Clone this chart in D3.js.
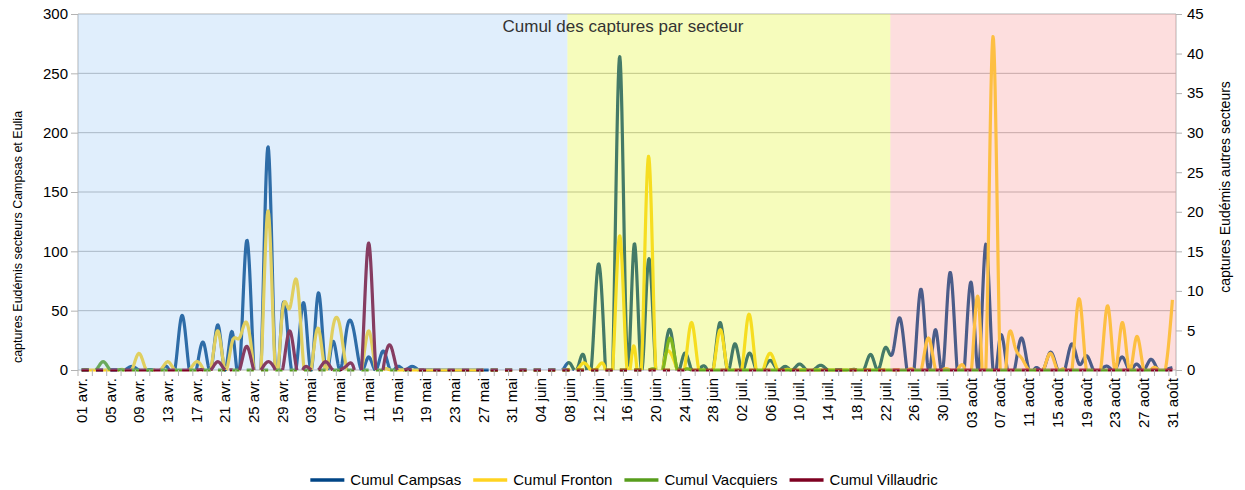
<!DOCTYPE html>
<html>
<head>
<meta charset="utf-8">
<script src="https://cdn.jsdelivr.net/npm/d3@7"></script>
<style>
  body { margin: 0; background: #fff; }
  svg { font-family: "Liberation Sans", Arial, sans-serif; }
</style>
</head>
<body>
<div id="chart"></div>
<script>
// months covered by the chart (day categories are built from these)
const months = ["avr.", "mai", "juin", "juil.", "août"];
const monthLengths = [30, 31, 30, 31, 31];

// daily values, one line per month (avr, mai, juin, juil, août)
const campsas = [].concat(
  [0,0,0,0,0,0,0,3,0,0, 0,0,2,0,46,0,0,23,0,38, 0,32,0,109,0,0,188,0,53,12],
  [6,56,0,65,0,24,0,36,31,0, 11,0,16,0,3,0,3,0,0,0, 0,0,0,0,0,0,0,0,0,0, 0],
  [0,0,0,0,0,0,0,6,0,12, 0,89,0,0,264,12,106,0,93,0, 0,34,0,14,0,0,2,0,40,0],
  [22,0,14,0,0,8,0,3,0,5, 0,0,4,0,0,0,0,0,0,13, 0,19,14,44,0,0,68,0,34,0, 82],
  [0,0,73,0,106,0,28,0,0,27, 0,2,0,15,0,0,22,5,12,0, 0,3,0,11,0,5,0,9,0,0, 2]
);
const fronton = [].concat(
  [0,0,0,0,0,0,0,0,14,0, 0,0,7,0,0,0,7,0,0,33, 0,24,27,40,0,0,134,0,50,52],
  [75,0,0,35,0,35,37,0,0,0, 33,0,0,0,0,0,0,0,0,0, 0,0,0,0,0,0,0,0,0,0, 0],
  [0,0,0,0,0,0,0,0,0,6, 0,3,0,0,113,0,20,0,180,0, 0,15,0,0,40,0,0,0,34,0],
  [0,0,47,0,0,14,0,0,0,0, 0,0,0,0,0,0,0,0,0,0, 0,0,0,0,0,0,0,27,0,0, 0],
  [0,2,0,58,0,281,0,19,21,10, 0,0,0,14,0,0,0,60,0,0, 0,54,0,40,0,28,0,0,0,0, 59]
);
const vacquiers = [].concat(
  [0,0,0,7,0,0,0,0,0,0, 0,0,0,0,0,0,0,0,0,0, 0,0,0,0,0,0,0,0,0,0],
  [0,0,0,0,0,0,0,0,0,0, 0,0,0,0,0,0,0,0,0,0, 0,0,0,0,0,0,0,0,0,0, 0],
  [0,0,0,0,0,0,0,0,0,0, 0,0,0,0,0,0,0,0,0,0, 0,27,0,0,0,0,0,0,0,0],
  [0,0,0,0,0,0,0,0,0,0, 0,0,0,0,0,0,0,0,0,0, 0,0,0,0,0,0,0,0,0,0, 0],
  [0,0,0,0,0,0,0,0,0,0, 0,0,0,0,0,0,0,0,0,0, 0,0,0,0,0,0,0,0,0,0, 0]
);
const villaudric = [].concat(
  [0,0,0,0,0,0,0,0,0,0, 0,0,0,0,0,0,0,0,0,7, 0,0,0,20,0,0,7,0,0,33],
  [0,2,0,0,7,0,0,4,0,0, 107,0,0,21,0,0,0,0,0,0, 0,0,0,0,0,0,0,0,0,0, 0],
  [0,0,0,0,0,0,0,0,0,0, 0,0,0,0,0,0,0,0,0,0, 0,0,0,0,0,0,0,0,0,0],
  [0,0,0,0,0,0,0,0,0,0, 0,0,0,0,0,0,0,0,0,0, 0,0,0,0,0,0,0,0,0,0, 0],
  [0,0,0,0,0,0,0,0,0,0, 0,0,0,0,0,0,0,0,0,0, 0,0,0,0,0,0,0,0,0,0, 0]
);

const seriesNames = ["Cumul Campsas", "Cumul Fronton", "Cumul Vacquiers", "Cumul Villaudric"];
const seriesColors = ["#004586", "#ffd320", "#579d1c", "#7e0021"];

// background sectors, each starting on a day
const zoneStarts = ["01 avr.", "08 juin", "23 juil."];
const zoneColors = ["#98c6f5", "#e1f520", "#f89191"];

const leftTicks = [0, 50, 100, 150, 200, 250, 300];
const rightTicks = [0, 5, 10, 15, 20, 25, 30, 35, 40, 45];

const title = "Cumul des captures par secteur";
const leftTitle = "captures Eudémis secteurs Campsas et Eulia";
const rightTitle = "captures Eudémis autres secteurs";

// day categories "01 avr." ...
const days = [];
months.forEach((m, k) => {
  for (let d = 1; d <= monthLengths[k]; d++) days.push(String(d).padStart(2, "0") + " " + m);
});

const width = 1245, height = 490;
const plot = { left: 78, right: 1176, top: 14, bottom: 370 };

const svg = d3.select("#chart").append("svg")
  .attr("width", width)
  .attr("height", height);

const x = d3.scaleBand().domain(days).range([plot.left, plot.right]).padding(0);
const bw = x.bandwidth();
const xc = d3.scaleLinear().domain([0, days.length - 1])
  .range([x(days[0]) + bw / 2, x(days[days.length - 1]) + bw / 2]);
const yL = d3.scaleLinear().domain([0, 300]).range([plot.bottom, plot.top]);
const yR = d3.scaleLinear().domain([0, 45]).range([plot.bottom, plot.top]);

// grid
svg.append("g")
  .selectAll("line")
  .data(leftTicks.slice(1))
  .enter()
  .append("line")
  .attr("x1", plot.left).attr("x2", plot.right)
  .attr("y1", d => yL(d)).attr("y2", d => yL(d))
  .attr("stroke", "#b3b3b3").attr("stroke-width", 1);

// plot frame lines (left, right, bottom)
svg.append("line").attr("x1", plot.left).attr("x2", plot.left).attr("y1", plot.top).attr("y2", plot.bottom)
  .attr("stroke", "#b3b3b3");
svg.append("line").attr("x1", plot.right).attr("x2", plot.right).attr("y1", plot.top).attr("y2", plot.bottom)
  .attr("stroke", "#b3b3b3");
svg.append("line").attr("x1", plot.left).attr("x2", plot.right).attr("y1", plot.bottom).attr("y2", plot.bottom)
  .attr("stroke", "#b3b3b3");

// natural cubic spline (second derivatives)
function splineM(ys) {
  const n = ys.length;
  const M = new Float64Array(n), cp = new Float64Array(n), dp = new Float64Array(n);
  for (let i = 1; i < n - 1; i++) {
    const rhs = 6 * (ys[i + 1] - 2 * ys[i] + ys[i - 1]);
    const den = 4 - (i > 1 ? cp[i - 1] : 0);
    cp[i] = 1 / den;
    dp[i] = (rhs - (i > 1 ? dp[i - 1] : 0)) / den;
  }
  for (let i = n - 2; i >= 1; i--) M[i] = dp[i] - cp[i] * M[i + 1];
  return M;
}

// sample the spline, keep only the parts >= 0 (the chart cuts the curve at the axis)
function splineRuns(ys) {
  const M = splineM(ys);
  const steps = 14;
  const pts = [];
  for (let i = 0; i < ys.length - 1; i++) {
    for (let s = 0; s < steps; s++) {
      const t = s / steps, u = 1 - t;
      const v = ys[i] * u + ys[i + 1] * t + ((u * u * u - u) * M[i] + (t * t * t - t) * M[i + 1]) / 6;
      pts.push({ u: i + t, v: v });
    }
  }
  pts.push({ u: ys.length - 1, v: ys[ys.length - 1] });
  const runs = [];
  let cur = null;
  for (let k = 0; k < pts.length; k++) {
    const p = pts[k];
    if (p.v >= 0) {
      if (!cur) {
        cur = [];
        if (k > 0) {
          const q = pts[k - 1];
          const f = q.v / (q.v - p.v);
          cur.push({ u: q.u + f * (p.u - q.u), v: 0 });
        }
        runs.push(cur);
      }
      cur.push(p);
    } else if (cur) {
      const q = pts[k - 1];
      const f = q.v / (q.v - p.v);
      cur.push({ u: q.u + f * (p.u - q.u), v: 0 });
      cur = null;
    }
  }
  return runs.filter(r => r.length > 1);
}

const line = d3.line().x(p => xc(p.u)).y(p => yL(p.v));
const allSeries = [campsas, fronton, vacquiers, villaudric];

svg.append("g")
  .selectAll("path")
  .data(allSeries)
  .enter()
  .append("path")
  .attr("d", s => splineRuns(s).map(r => line(r)).join(""))
  .attr("fill", "none")
  .attr("stroke", (s, i) => seriesColors[i])
  .attr("stroke-width", 3.2)
  .attr("stroke-linejoin", "round")
  .attr("stroke-linecap", "butt");

// translucent sector backgrounds, laid over the lines
const zoneEdges = zoneStarts.map((d, i) => i === 0 ? x(d) : x(d) + bw * 0.2).concat([plot.right]);
svg.append("g")
  .selectAll("rect")
  .data(zoneColors)
  .enter()
  .append("rect")
  .attr("x", (c, i) => zoneEdges[i])
  .attr("width", (c, i) => zoneEdges[i + 1] - zoneEdges[i])
  .attr("y", plot.top)
  .attr("height", plot.bottom - plot.top)
  .attr("fill", c => c)
  .attr("fill-opacity", 0.3);

// left axis
const gL = svg.append("g")
  .attr("transform", `translate(${plot.left},0)`)
  .call(d3.axisLeft(yL).tickValues(leftTicks).tickSize(7).tickPadding(3));
gL.select(".domain").remove();
gL.selectAll("line").attr("stroke", "#b3b3b3");
gL.selectAll("text").attr("font-size", 15).attr("fill", "#000").attr("font-family", "Liberation Sans");

// right axis
const gR = svg.append("g")
  .attr("transform", `translate(${plot.right},0)`)
  .call(d3.axisRight(yR).tickValues(rightTicks).tickSize(6).tickPadding(5));
gR.select(".domain").remove();
gR.selectAll("line").attr("stroke", "#b3b3b3");
gR.selectAll("text").attr("font-size", 15).attr("fill", "#000").attr("font-family", "Liberation Sans");

// bottom tick marks every second day boundary
svg.append("g")
  .selectAll("line")
  .data(days.filter((d, i) => i % 2 === 0).concat(["end"]))
  .enter()
  .append("line")
  .attr("x1", d => d === "end" ? plot.right : x(d))
  .attr("x2", d => d === "end" ? plot.right : x(d))
  .attr("y1", plot.bottom).attr("y2", plot.bottom + 6)
  .attr("stroke", "#b3b3b3");

// bottom labels every fourth day
const gB = svg.append("g")
  .attr("transform", `translate(0,${plot.bottom})`)
  .call(d3.axisBottom(x).tickValues(days.filter((d, i) => i % 4 === 0)).tickSize(0).tickPadding(0));
gB.select(".domain").remove();
gB.selectAll("text")
  .attr("font-size", 15).attr("fill", "#000").attr("font-family", "Liberation Sans")
  .attr("text-anchor", "end")
  .attr("transform", "rotate(-90)")
  .attr("x", -8).attr("y", 0).attr("dy", "0.35em");

// titles
svg.append("text")
  .attr("x", 623).attr("y", 32)
  .attr("text-anchor", "middle")
  .attr("font-size", 17).attr("fill", "#333")
  .text(title);

svg.append("text")
  .attr("transform", "translate(22,237) rotate(-90)")
  .attr("text-anchor", "middle")
  .attr("font-size", 12.5).attr("fill", "#000")
  .text(leftTitle);

svg.append("text")
  .attr("transform", "translate(1230,187) rotate(-90)")
  .attr("text-anchor", "middle")
  .attr("font-size", 14).attr("fill", "#000")
  .text(rightTitle);

// legend
const legend = svg.append("g");
const items = legend.selectAll("g")
  .data(seriesNames)
  .enter()
  .append("g");
items.append("line")
  .attr("x1", 0).attr("x2", 34).attr("y1", 0).attr("y2", 0)
  .attr("stroke", (d, i) => seriesColors[i])
  .attr("stroke-width", 3.5);
items.append("text")
  .attr("x", 40).attr("y", 0).attr("dy", "0.35em")
  .attr("font-size", 15).attr("fill", "#000")
  .text(d => d);
let widths = [];
items.each(function() { widths.push(40 + this.querySelector("text").getComputedTextLength()); });
const gap = 12;
const total = d3.sum(widths) + gap * (widths.length - 1);
let pos = 624 - total / 2;
items.attr("transform", (d, i) => {
  const t = `translate(${pos},480)`;
  pos += widths[i] + gap;
  return t;
});
</script>
</body>
</html>
